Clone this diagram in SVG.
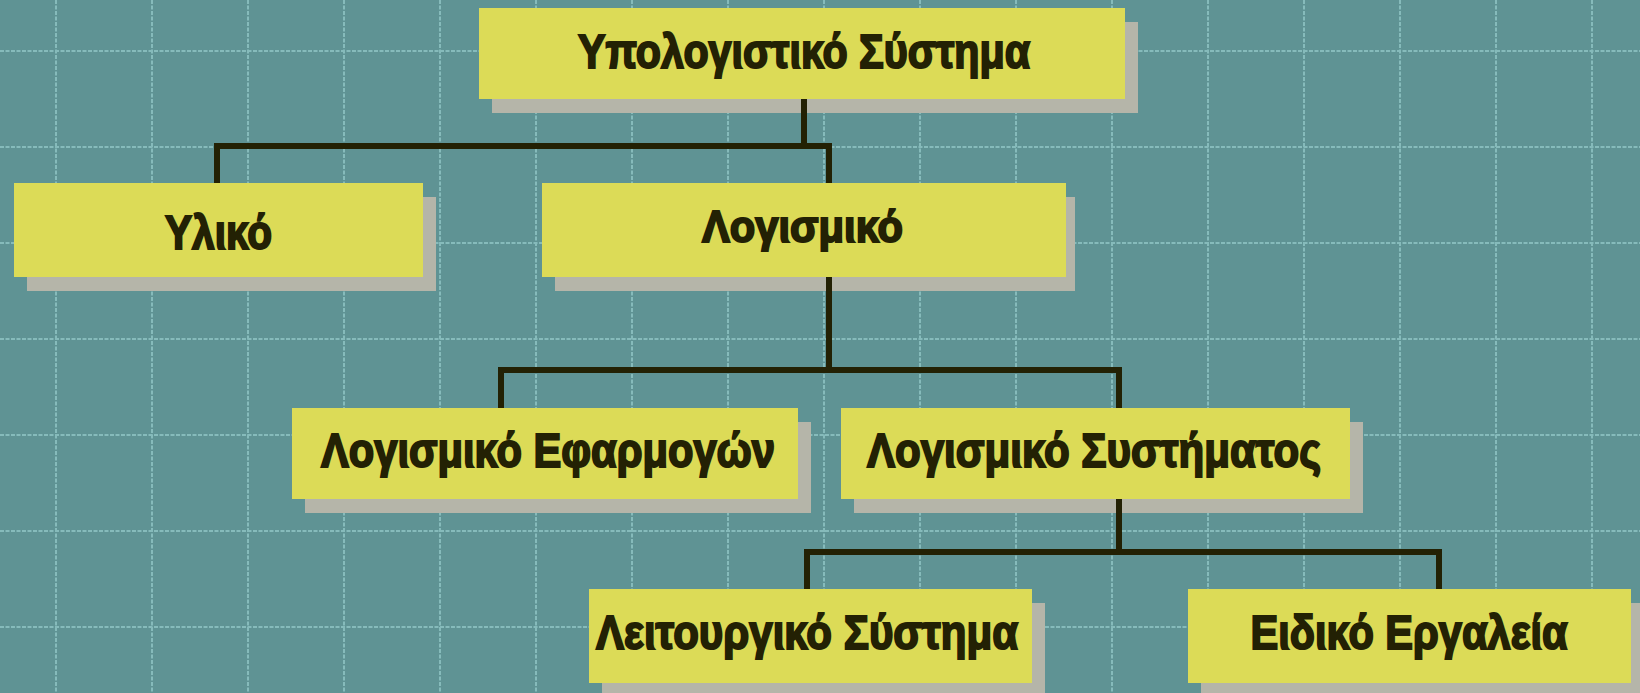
<svg xmlns="http://www.w3.org/2000/svg" width="1640" height="693" viewBox="0 0 1640 693">
  <style>
    .bg { fill: #5f9394; }
    .grid line { stroke: #86bbbb; stroke-width: 2; stroke-dasharray: 4 1.5; }
    .shadow { fill: #b5b5a9; }
    .box { fill: #dcdb57; }
    .wire { fill: none; stroke: #232104; stroke-width: 6; stroke-linejoin: miter; stroke-linecap: butt; }
    .label { font-family: "Liberation Sans", "DejaVu Sans", sans-serif; font-weight: bold; font-size: 48px; fill: #232104; stroke: #232104; stroke-width: 2; stroke-linejoin: miter; text-anchor: middle; }
  </style>

  <rect class="bg" x="0" y="0" width="1640" height="693"/>

  <!-- background grid, 96px pitch -->
  <g class="grid">
    <line x1="56" y1="0" x2="56" y2="693"/>
    <line x1="152" y1="0" x2="152" y2="693"/>
    <line x1="248" y1="0" x2="248" y2="693"/>
    <line x1="344" y1="0" x2="344" y2="693"/>
    <line x1="440" y1="0" x2="440" y2="693"/>
    <line x1="536" y1="0" x2="536" y2="693"/>
    <line x1="632" y1="0" x2="632" y2="693"/>
    <line x1="728" y1="0" x2="728" y2="693"/>
    <line x1="824" y1="0" x2="824" y2="693"/>
    <line x1="920" y1="0" x2="920" y2="693"/>
    <line x1="1016" y1="0" x2="1016" y2="693"/>
    <line x1="1112" y1="0" x2="1112" y2="693"/>
    <line x1="1208" y1="0" x2="1208" y2="693"/>
    <line x1="1304" y1="0" x2="1304" y2="693"/>
    <line x1="1400" y1="0" x2="1400" y2="693"/>
    <line x1="1496" y1="0" x2="1496" y2="693"/>
    <line x1="1592" y1="0" x2="1592" y2="693"/>
    <line x1="0" y1="51" x2="1640" y2="51"/>
    <line x1="0" y1="147" x2="1640" y2="147"/>
    <line x1="0" y1="243" x2="1640" y2="243"/>
    <line x1="0" y1="339" x2="1640" y2="339"/>
    <line x1="0" y1="435" x2="1640" y2="435"/>
    <line x1="0" y1="531" x2="1640" y2="531"/>
    <line x1="0" y1="627" x2="1640" y2="627"/>
  </g>

  <!-- drop shadows sit under the connectors -->
  <g id="shadows">
    <rect class="shadow" x="492" y="22" width="646" height="91"/>
    <rect class="shadow" x="27" y="197" width="409" height="94"/>
    <rect class="shadow" x="555" y="197" width="520" height="94"/>
    <rect class="shadow" x="305" y="422" width="506" height="91"/>
    <rect class="shadow" x="854" y="422" width="509" height="91"/>
    <rect class="shadow" x="602" y="603" width="443" height="94"/>
    <rect class="shadow" x="1201" y="603" width="443" height="94"/>
  </g>

  <g id="connectors">
    <path class="wire" d="M804 99 V146"/>
    <path class="wire" d="M217 183 V146 H829 V183"/>
    <path class="wire" d="M829 277 V370"/>
    <path class="wire" d="M501 408 V370 H1119 V552"/>
    <path class="wire" d="M807 589 V552 H1439 V589"/>
  </g>

  <g id="node-computer-system">
    <rect class="box" x="479" y="8" width="646" height="91"/>
    <text class="label" x="804" y="68" textLength="452" lengthAdjust="spacingAndGlyphs">Υπολογιστικό Σύστημα</text>
  </g>

  <g id="node-hardware">
    <rect class="box" x="14" y="183" width="409" height="94"/>
    <text class="label" x="218.5" y="249" textLength="107" lengthAdjust="spacingAndGlyphs">Υλικό</text>
  </g>

  <g id="node-software">
    <rect class="box" x="542" y="183" width="524" height="94"/>
    <text class="label" x="802.5" y="242" style="font-size:44px" textLength="201" lengthAdjust="spacingAndGlyphs">Λογισμικό</text>
  </g>

  <g id="node-application-software">
    <rect class="box" x="292" y="408" width="506" height="91"/>
    <text class="label" x="548" y="467" textLength="454" lengthAdjust="spacingAndGlyphs">Λογισμικό Εφαρμογών</text>
  </g>

  <g id="node-system-software">
    <rect class="box" x="841" y="408" width="509" height="91"/>
    <text class="label" x="1094" y="467" textLength="454" lengthAdjust="spacingAndGlyphs">Λογισμικό Συστήματος</text>
  </g>

  <g id="node-operating-system">
    <rect class="box" x="589" y="589" width="443" height="94"/>
    <text class="label" x="807" y="649" textLength="422" lengthAdjust="spacingAndGlyphs">Λειτουργικό Σύστημα</text>
  </g>

  <g id="node-special-tools">
    <rect class="box" x="1188" y="589" width="443" height="94"/>
    <text class="label" x="1409" y="649" textLength="317" lengthAdjust="spacingAndGlyphs">Ειδικό Εργαλεία</text>
  </g>
</svg>
